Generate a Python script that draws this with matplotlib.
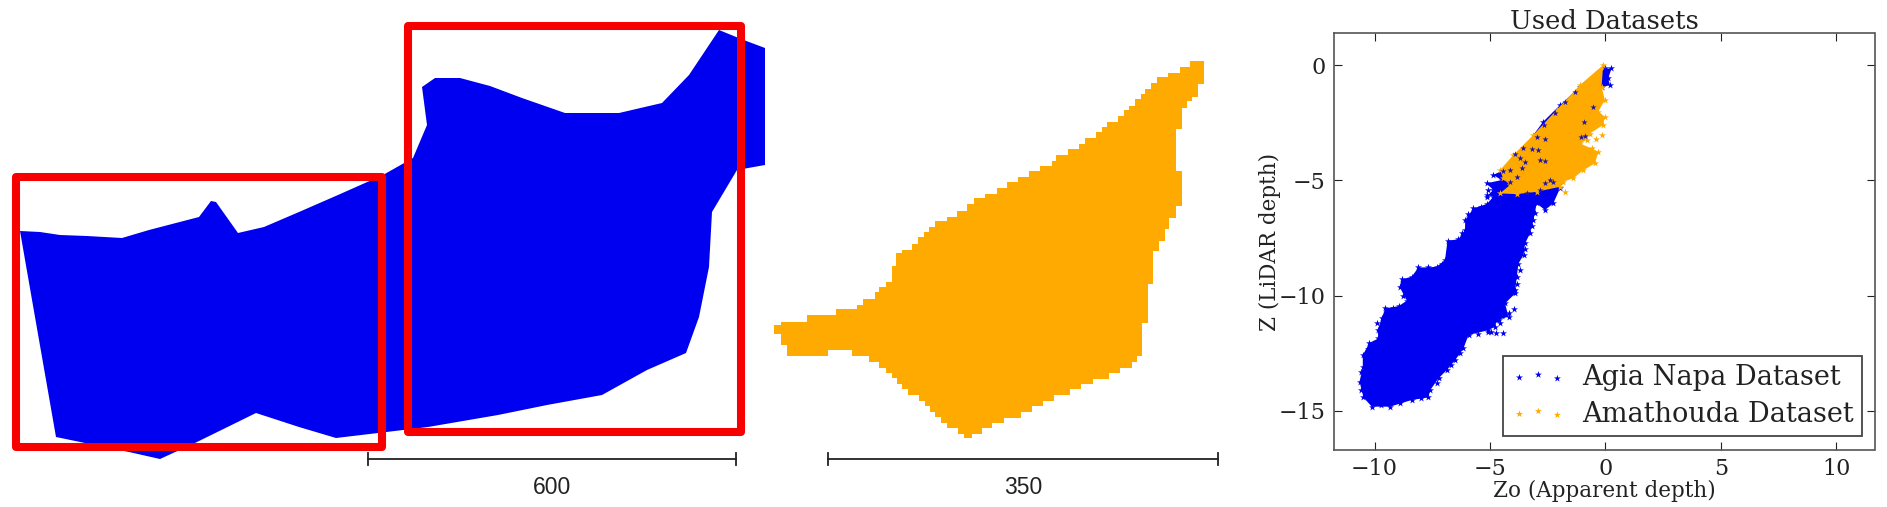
import matplotlib
matplotlib.use('Agg')
import matplotlib.pyplot as plt
from matplotlib.patches import Rectangle

W, H = 1887, 507

# blue survey area, read in pixels of the reference
blue_map_x = [20, 40, 60, 87, 122, 149, 199, 211, 216, 238, 264, 299, 338, 383, 413, 427, 422, 435, 460, 490,
              522, 565, 619, 662, 689, 719, 741, 765, 765, 737, 712, 709, 699, 686, 647, 602, 547, 498, 428, 378,
              336, 299, 256, 197, 160, 129, 85, 56, 35]
blue_map_y = [231, 232, 235, 236, 238, 230, 217, 201, 202, 233, 227, 212, 195, 175, 158, 125, 87, 78, 78, 86,
              98, 113, 113, 103, 75, 30, 39, 48, 165, 170, 212, 267, 317, 353, 370, 395, 405, 415, 427, 433,
              438, 427, 413, 442, 459, 452, 443, 437, 317]

# orange survey area, read on a 3x crop starting at (760, 40)
# outline is stepped: each x is reached along the previous y, then it moves to the next y
orange_step_x = [62, 140, 228, 290, 310, 345, 358, 378, 395, 408, 425, 457, 475, 493, 507, 525, 560, 592, 622, 642,
                 675, 710, 740, 775, 808, 840, 875, 888, 925, 958, 975, 1007, 1025, 1042, 1075, 1092, 1107, 1125, 1142,
                 1155, 1173, 1192, 1225, 1260, 1290, 1333, 1315, 1297, 1282, 1265, 1247, 1265, 1247, 1228, 1215, 1197,
                 1178, 1165, 1147, 1130, 1115, 1080, 1048, 1000, 962, 930, 882, 850, 815, 782, 733, 697, 665, 635, 612,
                 595, 560, 543, 525, 510, 495, 478, 445, 425, 410, 395, 378, 358, 327, 277, 203, 80, 62, 42]
orange_step_y = [855, 845, 825, 807, 795, 777, 757, 742, 725, 678, 640, 630, 612, 592, 577, 560, 543, 530, 512, 493,
                 475, 462, 443, 427, 412, 393, 377, 362, 345, 327, 312, 295, 277, 260, 246, 228, 210, 197, 178,
                 162, 148, 130, 111, 98, 80, 62, 133, 170, 183, 203, 268, 393, 497, 535, 567, 603,
                 633, 733, 850, 947, 965, 985, 998, 1017, 1033, 1048, 1065, 1082, 1098, 1115, 1133, 1148, 1165, 1183, 1195,
                 1183, 1165, 1148, 1130, 1115, 1098, 1082, 1065, 1048, 1033, 1015, 998, 985, 965, 947, 930, 947, 915, 882]

# measured scale bars
scale_labels = ['600', '350']
scale_x0 = [368, 828]
scale_x1 = [736, 1218]

# Zo / Z values for the two datasets (outer points of each cloud)
agia_x = [-0.03, 0.26, 0.12, 0.19, -0.17, -1.97, -2.26, -2.62, -2.98, -3.12, -3.27, -3.48, -3.55, -3.77, -3.84, -3.91,
          -3.91, -4.35, -4.20, -4.71, -4.78, -5.07, -5.93, -6.15, -6.51, -6.87, -7.23, -7.59, -7.67, -8.39, -9.33,
          -10.12, -10.48, -10.65, -10.51, -10.51, -10.22, -9.83, -9.87, -9.69, -9.54, -8.96, -8.60, -8.92, -8.82,
          -8.39, -8.10, -7.67, -7.31, -6.95, -6.84, -6.37, -6.08, -6.08, -5.72, -5.14, -4.85, -5.14, -5.07, -5.15,
          -4.86, -5.15, -4.50, -4.86, -4.14, -2.70, -1.97, -1.11]
agia_z = [-0.15, -0.15, -0.58, -0.87, -0.97, -5.35, -6.00, -6.29, -6.00, -6.73, -7.30, -7.74, -8.24, -8.61, -9.18, -9.76,
          -9.91, -10.34, -10.92, -11.06, -11.35, -11.50, -11.71, -12.29, -12.80, -13.23, -13.59, -14.10, -14.42,
          -14.53, -14.82, -14.82, -14.42, -13.74, -13.09, -12.58, -12.05, -11.86, -11.50, -10.99, -10.56, -10.46,
          -10.22, -9.62, -9.30, -9.18, -8.78, -8.78, -8.75, -8.46, -7.62, -7.56, -7.16, -6.73, -6.22, -6.03, -5.71,
          -5.64, -5.42, -5.71, -5.42, -5.13, -4.99, -4.77, -4.41, -2.46, -1.74, -0.94]
agia_stray_x = [-4.43, -4.96, -4.60, -3.95, -8.50, -7.60, -5.10, -4.75, -4.55, -4.20, -6.40, -8.85, -9.75,
                -9.90, -10.30, -10.60, -10.60, -9.70, -8.90, -8.00, -7.30, -6.70, -6.30, -5.50, -4.50, -3.85, -3.70,
                -3.50, -3.20, -3.05, -5.40, -5.95, -6.20, -6.70, -7.10, -8.30, -8.75, -9.20]
agia_stray_z = [-11.63, -11.56, -11.05, -10.60, -9.80, -9.60, -11.60, -11.62, -11.20, -10.75, -12.10, -14.35, -14.10,
                -11.20, -12.30, -13.30, -14.10, -14.75, -14.65, -14.45, -13.80, -13.00, -12.50, -11.65, -10.90, -9.50,
                -8.90, -8.00, -7.00, -6.40, -6.15, -6.45, -7.30, -8.10, -8.65, -9.50, -10.00, -10.55]

amathouda_x = [-0.10, -0.17, -0.03, -0.31, -0.03, -0.10, -0.68, -0.82, -1.11, -0.60, -0.31, -0.46, -0.96, -1.40, -1.83,
               -1.97, -2.98, -3.85, -4.57, -4.14, -4.43, -4.57, -3.99, -3.13, -2.12, -1.11]
amathouda_z = [0.0, -0.94, -1.52, -2.02, -2.24, -2.60, -2.97, -3.25, -3.40, -3.62, -3.76, -4.27, -4.56, -4.92, -5.06,
               -5.28, -5.50, -5.60, -5.57, -5.21, -4.92, -4.56, -3.90, -3.04, -1.95, -0.87]
amathouda_stray_x = [-0.39, -0.17, -1.76, -0.75]
amathouda_stray_z = [-3.23, -3.04, -5.50, -3.83]

# Agia Napa points showing through the orange cloud
through_x = [-0.56, -0.94, -1.04, -0.89, -2.67, -2.98, -2.62, -3.56, -3.20, -2.91, -3.92, -2.84, -2.62, -3.71, -3.49,
             -4.14, -4.43, -3.63, -3.85, -2.41, -2.62, -2.26, -2.84, -4.14, -3.42, -1.30, -1.75, -2.20]
through_z = [-1.81, -2.46, -3.14, -3.08, -2.60, -3.11, -3.23, -3.62, -3.64, -3.69, -3.86, -4.12, -4.15, -4.05, -4.19,
             -4.56, -4.58, -4.48, -4.87, -4.99, -5.13, -5.06, -5.42, -5.06, -5.57, -1.15, -1.60, -2.10]

BLUE = '#0000f0'
ORANGE = '#ffaa00'
RED = '#f70000'
INK = '#222222'


def stepped(xs, ys):
    # walk the outline, one horizontal and one vertical move per pair
    px, py = [42], [ys[0]]
    for i, (x, y) in enumerate(zip(xs, ys)):
        px.append(x)
        py.append(y)
        if i + 1 < len(ys):
            px.append(x)
            py.append(ys[i + 1])
    return [760 + v / 3 for v in px], [40 + v / 3 for v in py]


def main():
    fig = plt.figure(figsize=(W / 100, H / 100), dpi=100, facecolor='white')

    # left part is drawn on one axes in reference pixels
    bg = fig.add_axes([0, 0, 1, 1])
    bg.set_xlim(0, W)
    bg.set_ylim(H, 0)
    bg.axis('off')
    bg.fill(blue_map_x, blue_map_y, color=BLUE, lw=0)
    ox, oy = stepped(orange_step_x, orange_step_y)
    bg.fill(ox, oy, color=ORANGE, lw=0)
    for x0, y0, x1, y1 in [(16, 177, 381.5, 447), (408, 25.5, 741, 432)]:
        bg.add_patch(Rectangle((x0, y0), x1 - x0, y1 - y0, fill=False, ec=RED, lw=5.8, joinstyle='round'))
    for label, x0, x1 in zip(scale_labels, scale_x0, scale_x1):
        bg.plot([x0, x1], [459, 459], color=INK, lw=1.3)
        bg.plot([x0, x0], [453, 465], color=INK, lw=1.3)
        bg.plot([x1, x1], [453, 465], color=INK, lw=1.3)
        bg.text((x0 + x1) / 2, 488, label, family='Liberation Sans', fontsize=16.5, color=INK,
                ha='center', va='center')

    ax = fig.add_axes([1333.7 / W, 1 - 450 / H, 540.8 / W, 417 / H])
    ax.fill(agia_x, agia_z, color=BLUE, lw=0, zorder=2)
    ax.fill(amathouda_x, amathouda_z, color=ORANGE, lw=0, zorder=4)
    ax.scatter(agia_x + agia_stray_x, agia_z + agia_stray_z, s=28, marker='*', color=BLUE, lw=0, zorder=3,
               label='Agia Napa Dataset')
    ax.scatter(amathouda_x + amathouda_stray_x, amathouda_z + amathouda_stray_z, s=28, marker='*', color=ORANGE, lw=0,
               zorder=5, label='Amathouda Dataset')
    ax.scatter(through_x, through_z, s=22, marker='*', color='#1f14b0', lw=0, zorder=6)
    ax.set_xlim(-11.77, 11.65)
    ax.set_ylim(-16.7, 1.39)
    ax.set_xticks([-10, -5, 0, 5, 10])
    ax.set_yticks([0, -5, -10, -15])
    ax.tick_params(direction='in', top=True, right=True, length=6, width=0.8, labelsize=16, pad=6, colors=INK)
    for lab in ax.get_xticklabels() + ax.get_yticklabels():
        lab.set_family('DejaVu Serif')
    for s in ax.spines.values():
        s.set_color('#555555')
        s.set_linewidth(1.2)
    ax.set_title('Used Datasets', family='DejaVu Serif', fontsize=18.5, color=INK, pad=3)
    ax.set_xlabel('Zo (Apparent depth)', family='DejaVu Serif', fontsize=15.5, color=INK, labelpad=0)
    ax.set_ylabel('Z (LiDAR depth)', family='DejaVu Serif', fontsize=15.5, color=INK, labelpad=-2)
    leg = ax.legend(loc='lower right', scatterpoints=3, fancybox=False, edgecolor='#444444', framealpha=1,
                    prop={'family': 'DejaVu Serif', 'size': 19.5}, bbox_to_anchor=(0.976, 0.034), borderaxespad=0,
                    handletextpad=0.6, labelspacing=0.35, borderpad=0.3, scatteryoffsets=[0.4, 0.55, 0.35])
    leg.get_frame().set_linewidth(1.3)
    for t in leg.get_texts():
        t.set_color(INK)
    fig.savefig('out.png', dpi=100)


if __name__ == '__main__':
    main()
